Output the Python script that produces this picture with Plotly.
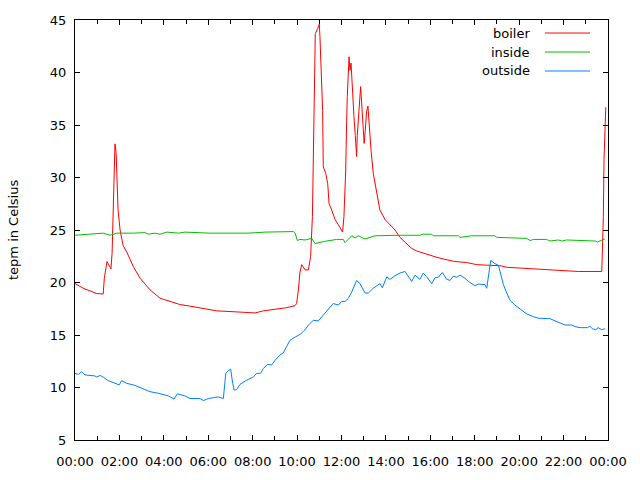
import plotly.graph_objects as go

# time in hours since 00:00
boiler_t = [0.00, 0.37, 0.68, 0.98, 1.27, 1.32, 1.44, 1.53, 1.62, 1.67, 1.71, 1.76, 1.80, 1.85, 1.89, 1.94,
            2.03, 2.17, 2.33, 2.63, 2.93, 3.38, 3.83, 4.28, 4.73, 5.18, 5.78, 6.38, 7.28, 8.11, 8.48, 9.08,
            9.53, 9.91, 9.98, 10.06, 10.13, 10.21, 10.36, 10.51, 10.61, 10.69, 10.73, 10.78, 10.82, 10.93,
            11.00, 11.03, 11.09, 11.15, 11.18, 11.29, 11.38, 11.44, 11.56, 11.71, 11.86, 12.01, 12.05, 12.11,
            12.19, 12.23, 12.26, 12.34, 12.38, 12.43, 12.49, 12.56, 12.62, 12.68, 12.71, 12.79, 12.86, 12.91,
            12.95, 13.02, 13.07, 13.13, 13.19, 13.25, 13.33, 13.43, 13.59, 13.73, 13.96, 14.18, 14.41, 14.63,
            14.78, 14.93, 15.16, 15.39, 15.68, 15.99, 16.29, 16.66, 17.11, 17.64, 18.09, 18.54, 19.14, 19.44,
            20.34, 20.94, 21.99, 22.66, 23.72, 23.76, 23.79, 23.82, 23.86, 23.90]
boiler_v = [19.9, 19.45, 19.2, 18.95, 18.9, 20.4, 22.0, 21.7, 21.3, 22.8, 26.0, 31.7, 33.2, 32.4, 28.8, 26.9,
            25.0, 23.5, 22.9, 21.5, 20.4, 19.3, 18.5, 18.2, 17.9, 17.75, 17.5, 17.3, 17.2, 17.1, 17.3, 17.45,
            17.6, 17.8, 18.0, 19.3, 21.0, 21.7, 21.2, 21.2, 22.5, 26.3, 33.2, 40.2, 43.7, 44.2,
            44.6, 43.4, 39.6, 36.4, 31.0, 30.4, 29.4, 27.5, 26.9, 26.0, 25.5, 25.0, 24.8, 26.3,
            30.7, 35.2, 37.7, 41.5, 40.2, 40.9, 38.2, 35.8, 34.0, 32.0, 34.0, 37.0, 38.65, 37.0,
            35.5, 33.25, 34.5, 36.3, 36.8, 34.5, 32.6, 30.4, 28.3, 26.9, 26.0, 25.5, 25.0, 24.3,
            24.0, 23.7, 23.25, 23.0, 22.8, 22.55, 22.4, 22.2, 22.0, 21.9, 21.7, 21.65, 21.6, 21.45,
            21.35, 21.25, 21.15, 21.05, 21.05, 23.7, 26.3, 31.7, 35.2, 36.7]

inside_t = [0.00, 0.68, 1.27, 1.58, 1.88, 2.63, 3.15, 3.30, 3.60, 3.83, 4.13, 4.65, 4.95, 6.08, 7.80, 8.56,
            9.15, 9.83, 9.91, 10.01, 10.13, 10.36, 10.66, 10.81, 11.18, 11.78, 12.08, 12.16, 12.46, 12.61,
            12.76, 13.06, 13.51, 14.04, 14.63, 15.53, 15.68, 16.06, 16.13, 17.26, 17.34, 17.86, 18.91, 18.99,
            19.59, 20.34, 20.49, 20.64, 21.24, 21.39, 21.77, 21.92, 22.14, 23.42, 23.52, 23.72, 23.86]
inside_v = [24.5, 24.6, 24.7, 24.5, 24.7, 24.7, 24.75, 24.6, 24.7, 24.6, 24.8, 24.7, 24.8, 24.7, 24.7, 24.8,
            24.85, 24.85, 24.7, 24.0, 24.1, 24.05, 24.2, 23.7, 23.9, 24.1, 24.1, 23.8, 24.45, 24.25,
            24.45, 24.15, 24.45, 24.5, 24.5, 24.5, 24.6, 24.6, 24.45, 24.45, 24.3, 24.45, 24.45, 24.3,
            24.25, 24.2, 24.0, 24.1, 24.1, 23.95, 24.05, 23.95, 24.05, 23.95, 23.85, 24.0, 24.15]

outside_t = [0.00, 0.15, 0.30, 0.45, 0.90, 0.98, 1.13, 1.27, 1.50, 1.80, 1.99, 2.10, 2.33, 2.70, 3.08, 3.38,
             3.75, 4.20, 4.46, 4.61, 4.95, 5.18, 5.63, 5.78, 6.00, 6.45, 6.68, 6.79, 6.90, 7.01, 7.10, 7.17,
             7.28, 7.43, 7.73, 8.03, 8.18, 8.36, 8.48, 8.66, 8.86, 9.01, 9.23, 9.38, 9.53, 9.68, 9.91, 10.13,
             10.36, 10.51, 10.73, 10.96, 11.18, 11.48, 11.63, 11.86, 12.01, 12.16, 12.31, 12.46, 12.68, 12.83,
             13.06, 13.21, 13.43, 13.73, 13.84, 14.04, 14.18, 14.41, 14.63, 14.86, 15.01, 15.16, 15.31, 15.53,
             15.68, 15.83, 16.06, 16.21, 16.36, 16.54, 16.74, 16.89, 17.03, 17.19, 17.34, 17.56, 17.71, 18.01,
             18.16, 18.46, 18.54, 18.63, 18.72, 18.91, 19.06, 19.14, 19.29, 19.44, 19.59, 19.81, 20.04, 20.34,
             20.64, 20.86, 21.39, 21.69, 22.06, 22.37, 22.51, 22.74, 23.07, 23.18, 23.29, 23.44, 23.56, 23.72,
             23.86]
outside_v = [11.35, 11.25, 11.5, 11.2, 11.1, 11.0, 11.15, 11.0, 10.65, 10.45, 10.25, 10.65, 10.4, 10.2, 9.9, 9.6,
             9.45, 9.2, 8.9, 9.4, 9.2, 8.95, 8.95, 8.75, 8.95, 9.1, 8.95, 11.35, 11.6, 11.75, 10.4, 9.75,
             9.8, 10.3, 10.7, 11.0, 11.35, 11.35, 11.8, 12.2, 12.15, 12.6, 13.1, 13.3, 13.9, 14.5, 14.8, 15.05,
             15.5, 15.95, 16.4, 16.35, 16.9, 17.6, 18.0, 17.85, 18.2, 18.2, 18.5, 19.1, 20.2, 19.9,
             19.0, 19.0, 19.45, 19.9, 19.5, 20.55, 20.3, 20.65, 20.9, 21.05, 20.55, 20.1, 20.7, 20.3,
             20.9, 20.55, 19.9, 20.45, 20.5, 20.95, 20.3, 20.2, 20.6, 20.5, 20.7, 20.4, 20.1, 19.7,
             19.85, 19.8, 19.45, 20.9, 22.1, 21.8, 21.65, 21.05, 19.8, 19.0, 18.3, 17.85, 17.45, 17.0,
             16.75, 16.6, 16.55, 16.3, 15.95, 15.95, 15.8, 15.7, 15.7, 15.85, 15.6, 15.5, 15.7, 15.5,
             15.6]

tick_hours = [0, 2, 4, 6, 8, 10, 12, 14, 16, 18, 20, 22, 24]
tick_labels = ["00:00", "02:00", "04:00", "06:00", "08:00", "10:00", "12:00",
               "14:00", "16:00", "18:00", "20:00", "22:00", "00:00"]
series_names = ["boiler", "inside", "outside"]
series_colors = ["#ff0000", "#00c000", "#0080ff"]

FONT = "DejaVu Sans"
fig = go.Figure()
for name, t, v, c in zip(series_names, [boiler_t, inside_t, outside_t],
                         [boiler_v, inside_v, outside_v], series_colors):
    fig.add_trace(go.Scatter(x=t, y=v, mode="lines", name=name,
                             line=dict(color=c, width=1), showlegend=False))

# gnuplot-style legend: text right-aligned, sample line to the right
row_y = [0.969, 0.9238, 0.8786]
for name, c, yy in zip(series_names, series_colors, row_y):
    fig.add_annotation(x=0.8574, y=yy, xref="paper", yref="paper", text=name,
                       showarrow=False, xanchor="right", yanchor="middle",
                       font=dict(family=FONT, size=13, color="black"))
    fig.add_shape(type="line", xref="paper", yref="paper", x0=0.8818, x1=0.9662,
                  y0=yy, y1=yy, line=dict(color=c, width=1))

fig.add_annotation(x=-0.1163, y=0.5, xref="paper", yref="paper", text="tepm in Celsius",
                   textangle=-90, showarrow=False, xanchor="center", yanchor="middle",
                   font=dict(family=FONT, size=13, color="black"))

fig.update_layout(
    width=640, height=480,
    margin=dict(l=75, r=32, t=20, b=40),
    paper_bgcolor="white", plot_bgcolor="white",
    font=dict(family=FONT, size=13, color="black"),
    showlegend=False,
)
fig.update_xaxes(range=[0, 24], tickmode="array", tickvals=tick_hours, ticktext=tick_labels,
                 ticks="inside", ticklen=5, tickcolor="black", showgrid=False, zeroline=False,
                 showline=True, linecolor="black", linewidth=1, mirror="allticks",
                 ticklabelstandoff=9,
                 minor=dict(dtick=1, ticks="inside", ticklen=4, tickcolor="black", showgrid=False))
fig.update_yaxes(range=[5, 45], dtick=5, tick0=5, ticks="inside", ticklen=5, tickcolor="black",
                 showgrid=False, zeroline=False, showline=True, linecolor="black", linewidth=1,
                 mirror="allticks", ticklabelstandoff=5)

fig.write_html("out.html")
